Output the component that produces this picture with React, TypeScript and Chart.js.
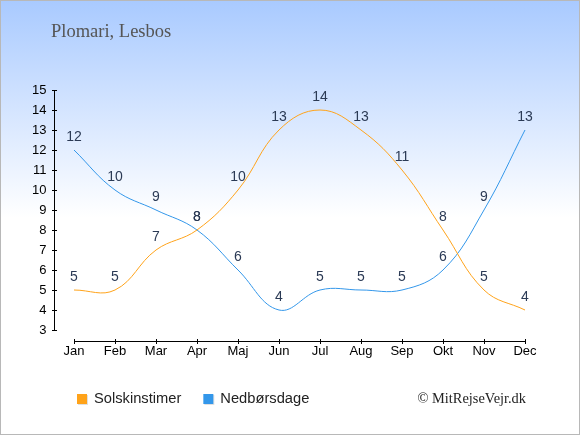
import { useEffect, useRef } from "react";
import { Chart, registerables } from "chart.js";

Chart.register(...registerables);

const months = ["Jan", "Feb", "Mar", "Apr", "Maj", "Jun", "Jul", "Aug", "Sep", "Okt", "Nov", "Dec"];
const sunHours = [5, 5, 7, 8, 10, 13, 14, 13, 11, 8, 5, 4];
const rainDays = [12, 10, 9, 8, 6, 4, 5, 5, 5, 6, 9, 13];
const yMin = 3;
const yMax = 15;
const titleText = "Plomari, Lesbos";
const creditText = "© MitRejseVejr.dk";
const sunLabel = "Solskinstimer";
const rainLabel = "Nedbørsdage";

const SANS = "'Liberation Sans', Arial, sans-serif";
const SERIF = "'Liberation Serif', 'Times New Roman', serif";

const decorPlugin = {
  id: "decor",
  afterDatasetsDraw(chart: any) {
    const ctx = chart.ctx as CanvasRenderingContext2D;
    const xs = chart.scales.x;
    const ys = chart.scales.y;
    const area = chart.chartArea;
    ctx.save();
    // y axis
    ctx.strokeStyle = "#000";
    ctx.lineWidth = 1;
    const ax = Math.round(area.left) + 0.5;
    ctx.beginPath();
    ctx.moveTo(ax, ys.getPixelForValue(yMax));
    ctx.lineTo(ax, ys.getPixelForValue(yMin));
    for (let v = yMin; v <= yMax; v++) {
      const py = Math.round(ys.getPixelForValue(v)) + 0.5;
      ctx.moveTo(ax - 2.5, py);
      ctx.lineTo(ax + 2.5, py);
    }
    ctx.stroke();
    // x axis
    const ay = Math.round(area.bottom + 11) + 0.5;
    ctx.beginPath();
    ctx.moveTo(xs.getPixelForValue(0), ay);
    ctx.lineTo(xs.getPixelForValue(months.length - 1), ay);
    for (let i = 0; i < months.length; i++) {
      const px = Math.round(xs.getPixelForValue(i)) + 0.5;
      ctx.moveTo(px, ay - 2.5);
      ctx.lineTo(px, ay + 2.5);
    }
    ctx.stroke();

    // data labels
    ctx.fillStyle = "#2b3a55";
    ctx.font = `14px ${SANS}`;
    ctx.textAlign = "center";
    ctx.textBaseline = "middle";
    chart.data.datasets.forEach((ds: any, di: number) => {
      const meta = chart.getDatasetMeta(di);
      meta.data.forEach((pt: any, i: number) => {
        ctx.fillText(String(ds.data[i]), pt.x, pt.y - 13);
      });
    });

    // title
    ctx.fillStyle = "#555555";
    ctx.font = `18.5px ${SERIF}`;
    ctx.textAlign = "left";
    ctx.fillText(titleText, 51, 32);

    // legend
    ctx.font = `14.7px ${SANS}`;
    let lx = 77;
    const ly = 399;
    chart.data.datasets.forEach((ds: any) => {
      ctx.fillStyle = "rgba(0,0,0,0.12)";
      ctx.fillRect(lx + 1, ly - 4, 10, 10);
      ctx.fillStyle = ds.borderColor;
      ctx.fillRect(lx, ly - 5, 10, 10);
      ctx.fillStyle = "#222";
      ctx.fillText(ds.label, lx + 17, ly);
      lx += 17 + ctx.measureText(ds.label).width + 22;
    });

    // credit
    ctx.fillStyle = "#222";
    ctx.font = `14.4px ${SERIF}`;
    ctx.textAlign = "right";
    ctx.fillText(creditText, 526, 399);
    ctx.restore();
  },
};

export default function App() {
  const ref = useRef<HTMLCanvasElement | null>(null);
  useEffect(() => {
    document.body.style.margin = "0";
    if (!ref.current) return;
    const chart = new Chart(ref.current, {
      type: "line",
      data: {
        labels: months,
        datasets: [
          {
            label: sunLabel,
            data: sunHours,
            borderColor: "#ffa31a",
            backgroundColor: "#ffa31a",
            borderWidth: 1,
            tension: 0.4,
            pointRadius: 0,
            fill: false,
          },
          {
            label: rainLabel,
            data: rainDays,
            borderColor: "#3397ea",
            backgroundColor: "#3397ea",
            borderWidth: 1,
            tension: 0.4,
            pointRadius: 0,
            fill: false,
          },
        ],
      },
      options: {
        animation: false,
        responsive: false,
        devicePixelRatio: 1,
        layout: { padding: { left: 0, right: 34.5, top: 90, bottom: 65 } },
        plugins: {
          legend: { display: false },
          title: { display: false },
          tooltip: { enabled: false },
        },
        scales: {
          x: {
            offset: true,
            grid: { display: false, drawTicks: false },
            border: { display: false },
            ticks: { color: "#000", font: { family: SANS, size: 13 }, padding: 14 },
            afterFit: (s: any) => {
              s.height = 40;
            },
          },
          y: {
            min: yMin,
            max: yMax,
            grid: { display: false, drawTicks: false },
            border: { display: false },
            ticks: { stepSize: 1, color: "#000", font: { family: SANS, size: 13 }, padding: 7 },
            afterFit: (s: any) => {
              s.width = 53.5;
            },
          },
        },
      },
      plugins: [decorPlugin],
    });
    return () => chart.destroy();
  }, []);
  return (
    <div
      style={{
        width: 580,
        height: 435,
        boxSizing: "border-box",
        border: "1px solid #b8b8b8",
        background: "linear-gradient(to bottom, #a9caff 0%, #ffffff 50%, #ffffff 100%)",
        position: "relative",
      }}
    >
      <canvas ref={ref} width={580} height={435} style={{ position: "absolute", left: -1, top: -1 }} />
    </div>
  );
}
